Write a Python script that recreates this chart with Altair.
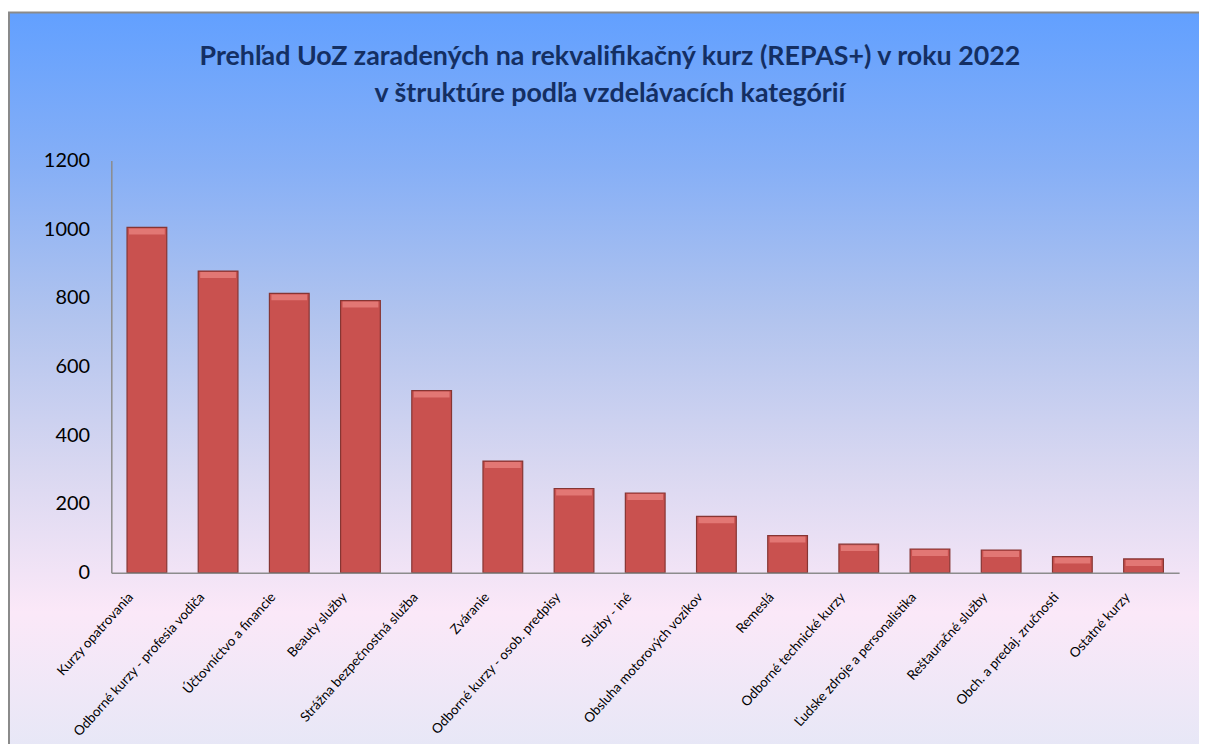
import altair as alt
import pandas as pd

categories = [
    "Kurzy opatrovania",
    "Odborné kurzy - profesia vodiča",
    "Účtovníctvo a financie",
    "Beauty služby",
    "Strážna bezpečnostná služba",
    "Zváranie",
    "Odborné kurzy - osob. predpisy",
    "Služby - iné",
    "Obsluha motorových vozíkov",
    "Remeslá",
    "Odborné technické kurzy",
    "Ľudske zdroje a personalistika",
    "Reštauračné služby",
    "Obch. a predaj. zručnosti",
    "Ostatné kurzy",
]
values = [1005, 878, 813, 792, 530, 325, 245, 232, 164, 108, 83, 69, 66, 47, 40]

y_ticks = [0, 200, 400, 600, 800, 1000, 1200]
title_lines = [
    "Prehľad UoZ zaradených na rekvalifikačný kurz (REPAS+) v roku 2022",
    "v štruktúre podľa vzdelávacích kategórií",
]

df = pd.DataFrame({"kategoria": categories, "pocet": values})

W, H = 1075, 415
PL, PT, PR, PB = 104, 151, 20, 170

gradient = alt.LinearGradient(
    gradient="linear",
    x1=0, x2=0, y1=0, y2=1,
    stops=[
        alt.GradientStop(offset=0.0, color="#62A0FF"),
        alt.GradientStop(offset=0.2, color="#86AFF6"),
        alt.GradientStop(offset=0.4, color="#B2C4EE"),
        alt.GradientStop(offset=0.6, color="#DAD8F1"),
        alt.GradientStop(offset=0.78, color="#FBE8F8"),
        alt.GradientStop(offset=1.0, color="#E2E7F6"),
    ],
)

bg = alt.Chart(pd.DataFrame({"a": [0]})).mark_rect(
    fill=gradient, stroke="#8A8A8A", strokeWidth=2
).encode(
    x=alt.value(-PL + 1),
    x2=alt.value(W + PR + 40),
    y=alt.value(-PT + 2),
    y2=alt.value(H + PB + 40),
)

title = alt.Chart(pd.DataFrame({"t": ["\n".join(title_lines)]})).mark_text(
    font="Lato",
    fontSize=27,
    fontWeight="bold",
    color="#142F63",
    lineBreak="\n",
    lineHeight=37,
    align="center",
    baseline="middle",
).encode(
    text="t:N",
    x=alt.value(502),
    y=alt.value(-104),
)

x_enc = alt.X(
    "kategoria:N",
    sort=categories,
    title=None,
    scale=alt.Scale(paddingInner=0.44, paddingOuter=0.22),
    axis=alt.Axis(
        labelAngle=-48,
        labelFont="Lato",
        labelFontSize=13.5,
        labelColor="#000000",
        labelPadding=22,
        labelOffset=-16,
        labelLimit=300,
        ticks=False,
        domainColor="#8C8C8C",
        domainWidth=1.5,
        zindex=1,
    ),
)

base = alt.Chart(df)

bars = base.mark_bar(
    size=40, fill="#C9514F", stroke="#863533", strokeWidth=1.2
).encode(
    x=x_enc,
    y=alt.Y(
        "pocet:Q",
        title=None,
        scale=alt.Scale(domain=[0, 1200]),
        axis=alt.Axis(
            values=y_ticks,
            format="d",
            grid=False,
            ticks=False,
            labelFont="Lato",
            labelFontSize=20,
            labelColor="#000000",
            labelPadding=22,
            domainColor="#8C8C8C",
            domainWidth=1.5,
            zindex=1,
        ),
    ),
)

bevel = base.mark_tick(
    orient="horizontal", size=36, thickness=6, color="#EC8784", yOffset=4
).encode(
    x=alt.X("kategoria:N", sort=categories),
    y=alt.Y("pocet:Q"),
)

chart = (
    alt.layer(bg, bars, bevel, title)
    .properties(
        width=W,
        height=H,
        autosize=alt.AutoSizeParams(type="none"),
        padding={"left": PL, "top": PT, "right": PR, "bottom": PB},
        background="white",
    )
    .configure_view(stroke=None)
)

chart.save("out.html", embed_options={"renderer": "svg", "actions": False})
